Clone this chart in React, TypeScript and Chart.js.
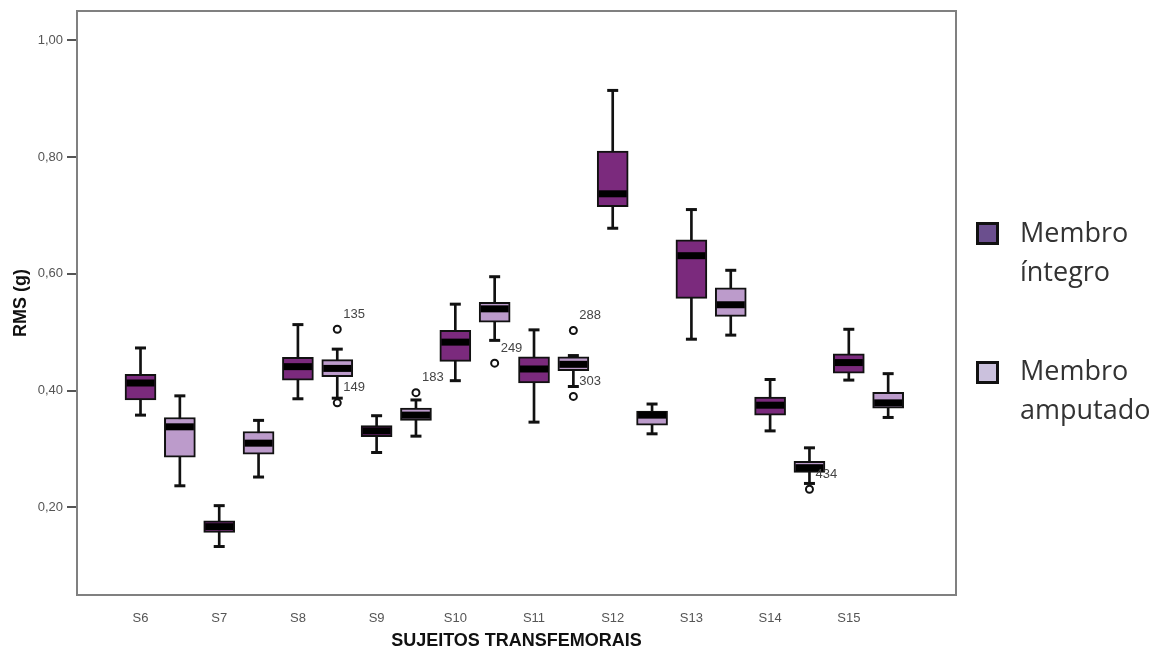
import React, { useEffect, useRef } from 'react';
import { Chart, registerables } from 'chart.js';

Chart.register(...registerables);

// Subjects along the horizontal axis
const subjects = ['S6', 'S7', 'S8', 'S9', 'S10', 'S11', 'S12', 'S13', 'S14', 'S15'];

// Membro íntegro: whisker ends, quartiles and median (RMS, g)
const integroMin = [0.358, 0.133, 0.386, 0.294, 0.417, 0.346, 0.678, 0.488, 0.331, 0.418];
const integroQ1 = [0.384, 0.157, 0.418, 0.321, 0.45, 0.413, 0.715, 0.558, 0.358, 0.43];
const integroMedian = [0.413, 0.167, 0.441, 0.331, 0.483, 0.437, 0.737, 0.631, 0.375, 0.448];
const integroQ3 = [0.428, 0.177, 0.457, 0.34, 0.503, 0.458, 0.81, 0.658, 0.389, 0.463];
const integroMax = [0.473, 0.203, 0.513, 0.357, 0.548, 0.504, 0.914, 0.71, 0.419, 0.505];

// Membro amputado
const amputadoMin = [0.237, 0.252, 0.387, 0.322, 0.486, 0.407, 0.326, 0.495, 0.241, 0.354];
const amputadoQ1 = [0.286, 0.291, 0.424, 0.349, 0.517, 0.434, 0.341, 0.527, 0.26, 0.37];
const amputadoMedian = [0.338, 0.31, 0.438, 0.358, 0.54, 0.445, 0.358, 0.547, 0.268, 0.379];
const amputadoQ3 = [0.354, 0.33, 0.453, 0.37, 0.551, 0.458, 0.365, 0.576, 0.279, 0.397];
const amputadoMax = [0.391, 0.349, 0.471, 0.384, 0.595, 0.46, 0.377, 0.606, 0.302, 0.429];

// Outliers (all in the amputated limb), with their case numbers
const outlierSubject = ['S8', 'S8', 'S9', 'S10', 'S11', 'S11', 'S14'];
const outlierValue = [0.505, 0.379, 0.3965, 0.447, 0.503, 0.39, 0.231];
const outlierCase = ['135', '149', '183', '249', '288', '303', '434'];

const yTicks = [0.2, 0.4, 0.6, 0.8, 1.0];

const seriesNames = ['Membro\níntegro', 'Membro\namputado'];
const boxColors = ['#7B2A7D', '#BC9BCB'];
const legendColors = ['#6B4F8E', '#CBC1DD'];

const CLUSTER_SHIFT = 0.5; // second box sits half a subject step to the right

const xPos = (i: number, s: number) => i + s * CLUSTER_SHIFT;

const AXIS_FONT = '"Liberation Sans", Arial, sans-serif';

const framePlugin = {
  id: 'frame',
  beforeDatasetsDraw(chart: any) {
    const { ctx, chartArea } = chart;
    ctx.save();
    ctx.strokeStyle = '#808080';
    ctx.lineWidth = 2;
    ctx.strokeRect(chartArea.left, chartArea.top, chartArea.right - chartArea.left, chartArea.bottom - chartArea.top);
    ctx.restore();
  },
};

const outlierLabelPlugin = {
  id: 'outlierLabels',
  afterDatasetsDraw(chart: any) {
    const { ctx } = chart;
    const idx = chart.data.datasets.findIndex((d: any) => d.label === 'outliers');
    if (idx < 0) return;
    const meta = chart.getDatasetMeta(idx);
    ctx.save();
    ctx.font = '13px ' + AXIS_FONT;
    ctx.fillStyle = '#444';
    ctx.textAlign = 'left';
    ctx.textBaseline = 'middle';
    meta.data.forEach((pt: any, k: number) => {
      ctx.fillText(outlierCase[k], pt.x + 6, pt.y - 15);
    });
    ctx.restore();
  },
};

export default function App() {
  const canvasRef = useRef<HTMLCanvasElement | null>(null);

  useEffect(() => {
    if (!canvasRef.current) return;

    const mins = [integroMin, amputadoMin];
    const q1s = [integroQ1, amputadoQ1];
    const meds = [integroMedian, amputadoMedian];
    const q3s = [integroQ3, amputadoQ3];
    const maxs = [integroMax, amputadoMax];

    const datasets: any[] = [];

    [0, 1].forEach((s) => {
      // whisker stems
      datasets.push({
        type: 'bar',
        label: 'stem' + s,
        data: subjects.map((_, i) => ({ x: xPos(i, s), y: [mins[s][i], maxs[s][i]] })),
        backgroundColor: '#111',
        borderWidth: 0,
        barThickness: 2,
        grouped: false,
        order: 10,
      });
    });

    [0, 1].forEach((s) => {
      // interquartile boxes
      datasets.push({
        type: 'bar',
        label: seriesNames[s],
        data: subjects.map((_, i) => ({ x: xPos(i, s), y: [q1s[s][i], q3s[s][i]] })),
        backgroundColor: boxColors[s],
        borderColor: '#111',
        borderWidth: 2,
        borderSkipped: false,
        barThickness: 31,
        grouped: false,
        order: 8,
      });
    });

    // medians
    datasets.push({
      type: 'scatter',
      label: 'medians',
      data: [0, 1].flatMap((s) => subjects.map((_, i) => ({ x: xPos(i, s), y: meds[s][i] }))),
      pointStyle: 'line',
      pointRadius: 14,
      pointBorderWidth: 7,
      pointBorderColor: '#000',
      showLine: false,
      order: 5,
    });

    // whisker caps
    datasets.push({
      type: 'scatter',
      label: 'caps',
      data: [0, 1].flatMap((s) =>
        subjects.flatMap((_, i) => [
          { x: xPos(i, s), y: mins[s][i] },
          { x: xPos(i, s), y: maxs[s][i] },
        ])
      ),
      pointStyle: 'line',
      pointRadius: 5.5,
      pointBorderWidth: 3,
      pointBorderColor: '#111',
      showLine: false,
      order: 4,
    });

    // outliers
    datasets.push({
      type: 'scatter',
      label: 'outliers',
      data: outlierSubject.map((sub, k) => ({ x: xPos(subjects.indexOf(sub), 1), y: outlierValue[k] })),
      pointStyle: 'circle',
      pointRadius: 3.5,
      pointBorderWidth: 2,
      pointBorderColor: '#111',
      pointBackgroundColor: '#fff',
      showLine: false,
      order: 1,
    });

    const chart = new Chart(canvasRef.current, {
      type: 'bar',
      data: { datasets },
      plugins: [framePlugin, outlierLabelPlugin],
      options: {
        animation: false,
        responsive: false,
        devicePixelRatio: 1,
        events: [],
        layout: { autoPadding: false, padding: { top: 11, right: 199, bottom: 0, left: 0 } },
        plugins: {
          legend: { display: false },
          tooltip: { enabled: false },
        },
        scales: {
          x: {
            type: 'linear',
            offset: false,
            min: -0.807,
            max: 10.362,
            grid: { display: false },
            border: { display: false },
            afterBuildTicks: (scale: any) => {
              scale.ticks = subjects.map((_, i) => ({ value: i }));
            },
            afterFit: (scale: any) => {
              scale.height = 58;
              scale.paddingLeft = 0;
              scale.paddingRight = 0;
            },
            ticks: {
              autoSkip: false,
              maxRotation: 0,
              padding: 8,
              color: '#555',
              font: { family: AXIS_FONT, size: 13 },
              callback: (v: any) => subjects[Math.round(Number(v))] ?? '',
            },
            title: {
              display: true,
              text: 'SUJEITOS TRANSFEMORAIS',
              color: '#111',
              font: { family: AXIS_FONT, size: 18, weight: 'bold' },
              padding: { top: 0, bottom: 1 },
            },
          },
          y: {
            type: 'linear',
            min: 0.05,
            max: 1.05,
            grid: {
              display: true,
              drawOnChartArea: false,
              drawTicks: true,
              tickLength: 10,
              color: '#555',
              lineWidth: 2,
            },
            border: { display: false },
            afterBuildTicks: (scale: any) => {
              scale.ticks = yTicks.map((v) => ({ value: v }));
            },
            afterFit: (scale: any) => {
              scale.width = 77;
              scale.paddingTop = 0;
              scale.paddingBottom = 0;
            },
            ticks: {
              padding: 4,
              color: '#555',
              font: { family: AXIS_FONT, size: 13 },
              callback: (v: any) => Number(v).toFixed(2).replace('.', ','),
            },
            title: {
              display: true,
              text: 'RMS (g)',
              color: '#111',
              font: { family: AXIS_FONT, size: 18, weight: 'bold' },
              padding: { top: 10, bottom: 0 },
            },
          },
        },
      } as any,
    });

    return () => chart.destroy();
  }, []);

  const legendTops = [222, 361];
  const textTops = [212, 350];

  return (
    <div
      style={{
        position: 'fixed',
        left: 0,
        top: 0,
        width: 1155,
        height: 653,
        background: '#fff',
        overflow: 'hidden',
      }}
    >
      <canvas ref={canvasRef} width={1155} height={653} style={{ width: 1155, height: 653, display: 'block' }} />
      {seriesNames.map((name, s) => (
        <React.Fragment key={name}>
          <div
            style={{
              position: 'absolute',
              left: 976,
              top: legendTops[s],
              width: 23,
              height: 23,
              boxSizing: 'border-box',
              border: '3px solid #111',
              background: legendColors[s],
            }}
          />
          <div
            style={{
              position: 'absolute',
              left: 1020,
              top: textTops[s],
              fontFamily: '"Open Sans", sans-serif',
              fontSize: 27,
              lineHeight: '39px',
              color: '#333',
              whiteSpace: 'pre',
            }}
          >
            {name}
          </div>
        </React.Fragment>
      ))}
    </div>
  );
}
